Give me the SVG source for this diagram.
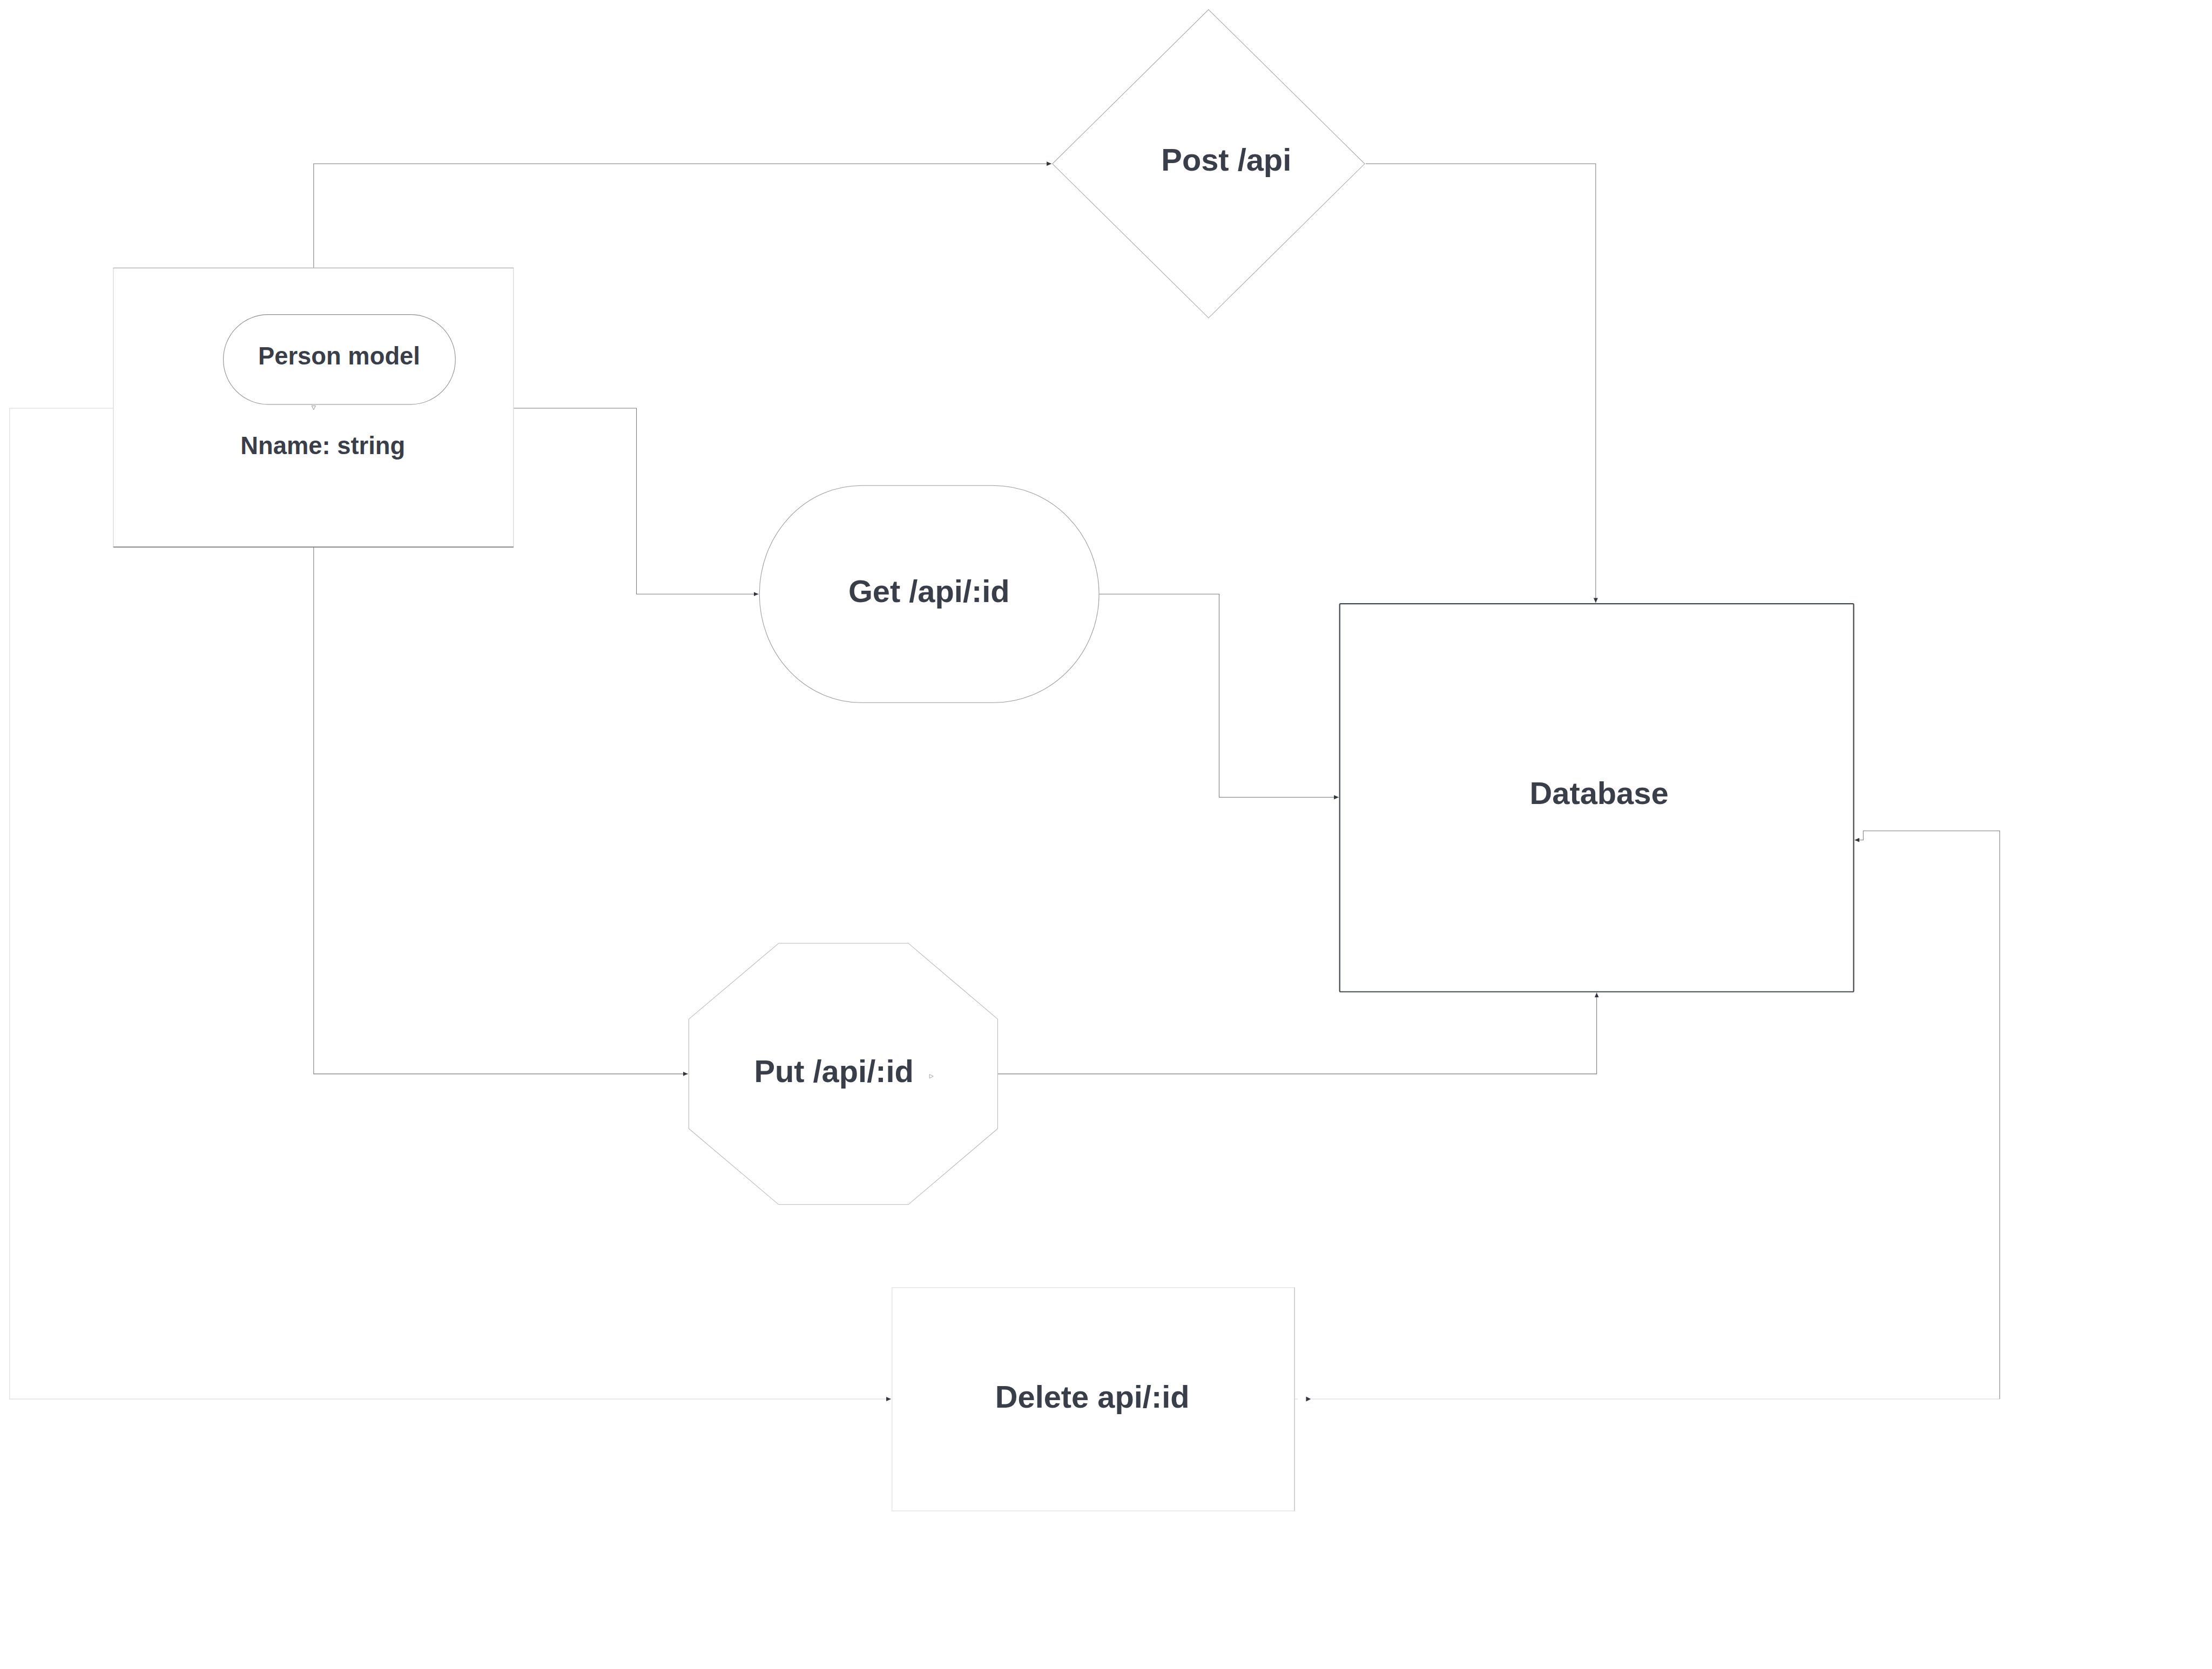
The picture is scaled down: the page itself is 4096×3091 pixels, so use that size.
<svg xmlns="http://www.w3.org/2000/svg" width="4096" height="3091" viewBox="0 0 4096 3091">
<style>
.lbl{font-family:"Liberation Sans",Arial,sans-serif;font-weight:bold;fill:#393e48;text-anchor:middle}
.big{font-size:65px}
.small{font-size:51px}
.conn{fill:none;stroke:#7a7a7a;stroke-width:1.2}
.connl{fill:none;stroke:#e0e0e0;stroke-width:1.5}
</style>
<defs>
<marker id="ah" markerUnits="userSpaceOnUse" markerWidth="12" markerHeight="10" refX="10" refY="4.5" orient="auto">
<path d="M0,0 L10,4.5 L0,9 Z" fill="#33373d"/>
</marker>
</defs>
<rect width="4096" height="3091" fill="#ffffff"/>
<g transform="scale(0.889468)">
<g id="connectors">
<path class="conn" d="M653,558 V341 H2189" marker-end="url(#ah)"/>
<path class="conn" d="M2843,341 H3322 V1255" marker-end="url(#ah)"/>
<path class="conn" d="M1069,850 H1325 V1237 H1579" marker-end="url(#ah)"/>
<path class="conn" d="M2288,1237 H2538 V1660 H2787" marker-end="url(#ah)"/>
<path class="conn" d="M653,1139 V2236 H1432" marker-end="url(#ah)"/>
<path class="conn" d="M2077,2236 H3324 V2067" marker-end="url(#ah)"/>
<path class="connl" d="M236,850 H20 V2913 H1855" marker-end="url(#ah)"/>
<path class="connl" d="M2730,2913 H4163"/>
<path class="connl" d="M2695,2913 H2702"/>
<path class="conn" d="M4163,2913 V1730 H3879 V1749 H3861" marker-end="url(#ah)"/>
<path d="M2719,2908 L2729,2913 L2719,2918 Z" fill="#33373d"/>
</g>
<g id="person-model">
<rect x="236" y="558" width="833" height="581" fill="#ffffff" stroke="#dadada" stroke-width="1.5"/>
<line x1="236" y1="558" x2="1069" y2="558" stroke="#b0b0b0" stroke-width="1.5"/>
<line x1="236" y1="1139" x2="1069" y2="1139" stroke="#555" stroke-width="1.5"/>
<text class="lbl small" x="672" y="945">Nname: string</text>
</g>
<g id="person-model-pill">
<rect x="465" y="655" width="483" height="187" rx="93" ry="93" fill="#ffffff" stroke="#8a8a8a" stroke-width="1.2"/>
<text class="lbl small" x="706" y="759">Person model</text>
<path d="M649,845 L657,845 L653,853 Z" fill="none" stroke="#888" stroke-width="1"/>
</g>
<g id="post">
<polygon points="2516,20 2841,341 2516,662 2191,341" fill="#ffffff" stroke="#a5a5a5" stroke-width="1.2"/>
<text class="lbl big" x="2553" y="355">Post /api</text>
</g>
<g id="get">
<path d="M1793,1011 H2068 A220,226 0 0 1 2288,1237 A220,226 0 0 1 2068,1463 H1793 A212,226 0 0 1 1581,1237 A212,226 0 0 1 1793,1011 Z" fill="#ffffff" stroke="#9a9a9a" stroke-width="1.2"/>
<text class="lbl big" x="1934" y="1253">Get /api/:id</text>
</g>
<g id="database">
<rect x="2789" y="1257" width="1070" height="808" rx="2" fill="#ffffff" stroke="#45484d" stroke-width="2.5"/>
<text class="lbl big" x="3329" y="1674">Database</text>
</g>
<g id="put">
<polygon points="1621,1964 1891,1964 2077,2122 2077,2350 1891,2508 1621,2508 1434,2350 1434,2122" fill="#ffffff" stroke="#b5b5b5" stroke-width="1.2"/>
<text class="lbl big" x="1736" y="2253">Put /api/:id</text>
<path d="M1935,2237 L1943,2241 L1935,2245 Z" fill="none" stroke="#999" stroke-width="1"/>
</g>
<g id="delete">
<rect x="1857" y="2681" width="838" height="465" fill="#ffffff" stroke="#e2e2e2" stroke-width="1.5"/>
<line x1="2695" y1="2681" x2="2695" y2="3146" stroke="#c5c5c5" stroke-width="1.5"/>
<text class="lbl big" x="2274" y="2931">Delete api/:id</text>
</g>
</g>
</svg>
